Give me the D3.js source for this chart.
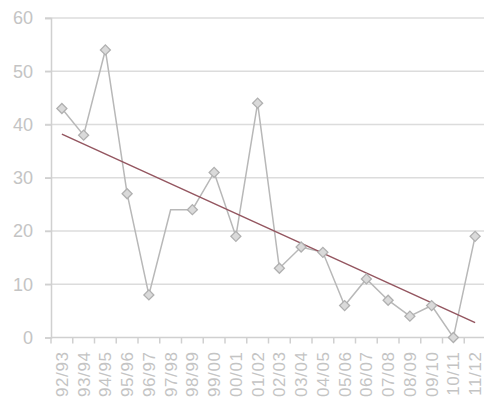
<!DOCTYPE html>
<html lang="en">
<head>
<meta charset="utf-8">
<title>line with trend</title>
<script src="https://d3js.org/d3.v7.min.js"></script>
<style>
  body { margin: 0; background: #fff; }
  svg text { font-family: "Liberation Sans", Arial, sans-serif; fill: #c4c4c4; }
</style>
</head>
<body>
<div id="chart"></div>
<script>
// seasons on the x axis
var seasons = ["92/93","93/94","94/95","95/96","96/97","97/98","98/99","99/00","00/01","01/02",
               "02/03","03/04","04/05","05/06","06/07","07/08","08/09","09/10","10/11","11/12"];
// values
var values = [43, 38, 54, 27, 8, 24, 24, 31, 19, 44, 13, 17, 16, 6, 11, 7, 4, 6, 0, 19];
// seasons that have no marker drawn
var noMarker = ["97/98"];
// trend line end points (first and last season)
var trendEnds = [38.2, 2.8];
var yTicks = [0, 10, 20, 30, 40, 50, 60];

var width = 484, height = 406;
var svg = d3.select("#chart").append("svg").attr("width", width).attr("height", height);

var x = d3.scaleBand().domain(seasons).range([51, 486]);
var y = d3.scaleLinear().domain([0, 60]).range([337.5, 18]);
var cx = function(s) { return x(s) + x.bandwidth() / 2; };

// gridlines
svg.append("g").selectAll("line").data(yTicks.slice(1)).enter().append("line")
  .attr("x1", 45).attr("x2", width)
  .attr("y1", function(d) { return y(d); }).attr("y2", function(d) { return y(d); })
  .attr("stroke", "#dcdcdc").attr("stroke-width", 1.5);

// y axis
var yAxis = svg.append("g").attr("transform", "translate(51,0)")
  .call(d3.axisLeft(y).tickValues(yTicks).tickSize(6).tickPadding(12));
yAxis.select(".domain").attr("stroke", "#d0d0d0").attr("stroke-width", 1.5);
yAxis.selectAll(".tick line").attr("stroke", "#d0d0d0").attr("stroke-width", 1.5);
yAxis.selectAll("text").attr("font-size", 18).style("fill", "#c4c4c4");

// x axis line and ticks between categories
svg.append("line").attr("x1", 51).attr("x2", width).attr("y1", y(0)).attr("y2", y(0))
  .attr("stroke", "#d0d0d0").attr("stroke-width", 1.5);
svg.append("g").selectAll("line").data(seasons).enter().append("line")
  .attr("x1", function(d) { return x(d); }).attr("x2", function(d) { return x(d); })
  .attr("y1", y(0)).attr("y2", y(0) + 6)
  .attr("stroke", "#d0d0d0").attr("stroke-width", 1.5);

// x labels, rotated
svg.append("g").selectAll("text").data(seasons).enter().append("text")
  .attr("transform", function(d) { return "translate(" + (cx(d) + 6) + "," + (y(0) + 14) + ") rotate(-90)"; })
  .attr("text-anchor", "end")
  .attr("font-size", 17)
  .style("letter-spacing", "0.6px")
  .text(function(d) { return d; });

// data line
var line = d3.line().x(function(d, i) { return cx(seasons[i]); }).y(function(d) { return y(d); });
svg.append("path").datum(values).attr("d", line)
  .attr("fill", "none").attr("stroke", "#b8b8b8").attr("stroke-width", 1.5);

// trend line
svg.append("line")
  .attr("x1", cx(seasons[0])).attr("y1", y(trendEnds[0]))
  .attr("x2", cx(seasons[seasons.length - 1])).attr("y2", y(trendEnds[1]))
  .attr("stroke", "#945660").attr("stroke-width", 1.5);

// diamond markers
var diamond = d3.symbol().type(d3.symbolSquare).size(50);
svg.append("g").selectAll("path")
  .data(values.map(function(v, i) { return { s: seasons[i], v: v }; })
    .filter(function(d) { return noMarker.indexOf(d.s) < 0; }))
  .enter().append("path")
  .attr("d", diamond)
  .attr("transform", function(d) { return "translate(" + cx(d.s) + "," + y(d.v) + ") rotate(45)"; })
  .attr("fill", "#dadada").attr("stroke", "#b0b0b0").attr("stroke-width", 1.3);
</script>
</body>
</html>
